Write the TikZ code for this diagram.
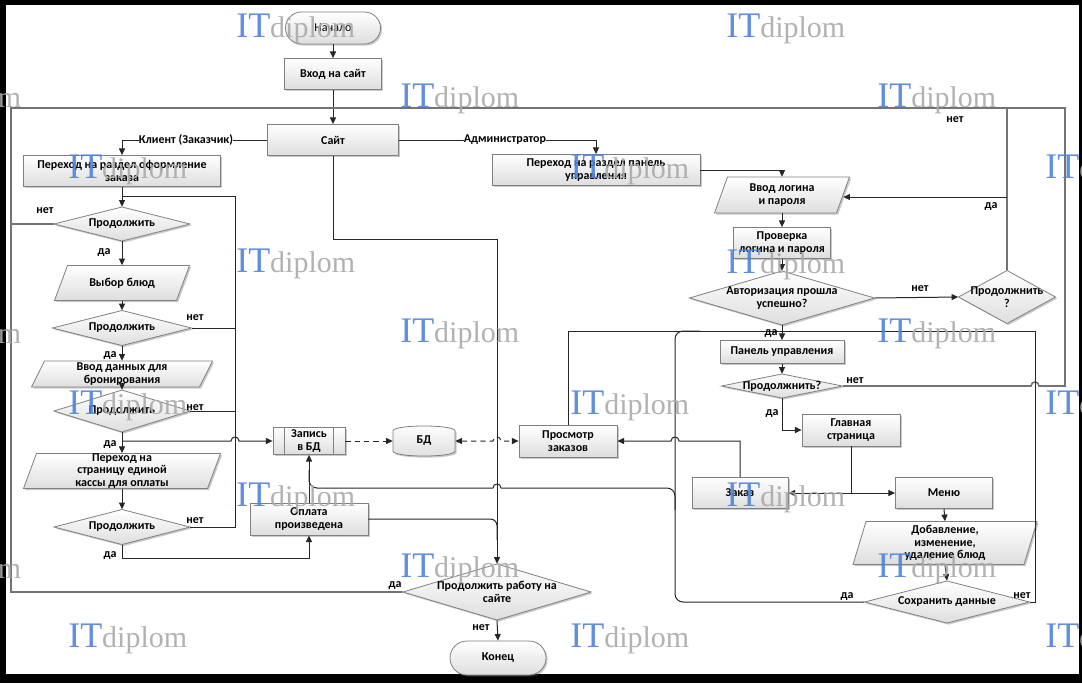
\documentclass[tikz,border=0pt]{standalone}
\usepackage{fontspec}
\setmainfont{Carlito}
\newfontfamily\wmfont{Liberation Serif}
\usetikzlibrary{arrows.meta,shapes.geometric,calc,shadows}
\definecolor{wmblue}{RGB}{80,130,220}
\definecolor{wmgray}{RGB}{170,170,170}
\newcommand\fnt{\fontsize{9}{9.6}\selectfont\bfseries}
\tikzset{
  >={Triangle[length=5pt,width=4.5pt]},
  sz/.style n args={2}{minimum width={(#1)*0.75pt},minimum height={(#2)*0.75pt}},
  shp/.style={draw=black!50, line width=0.6pt, top color=white, bottom color=black!13,
    drop shadow={shadow xshift=1.2pt,shadow yshift=-1.2pt,opacity=0.35,fill=black!60}},
  box/.style={shp, inner sep=0pt, align=center, font=\fnt},
  lbl/.style={inner sep=0pt, align=center, font=\fnt},
  con/.style={draw=black!85, line width=0.75pt},
  arr/.style={con, ->},
  dsh/.style={con, dash pattern=on 4pt off 3pt},
  outer/.style={draw=black!55, line width=1.2pt},
}
\newcommand\mybx[6]{\node[box, sz={#4}{#5}] (#1) at (#2,#3) {#6};}
\newcommand\mydmd[6]{%
  \path[shp] (#2-#4/2,#3) -- (#2,#3-#5/2) -- (#2+#4/2,#3) -- (#2,#3+#5/2) -- cycle;
  \node[lbl, sz={#4}{#5}] (#1) at (#2,#3) {#6};}
\newcommand\mypara[6]{%
  \path[shp] (#2-#4/2,#3+#5/2) -- (#2+#4/2-13,#3+#5/2) -- (#2+#4/2,#3-#5/2) -- (#2-#4/2+13,#3-#5/2) -- cycle;
  \node[lbl, sz={#4-13}{#5}] (#1) at (#2,#3) {#6};}
\newcommand\mywm[3]{\node[anchor=base west, inner sep=0pt, opacity=0.9] (#1) at (#2,#3)
  {\wmfont\fontsize{27}{27}\selectfont\textcolor{wmblue}{IT}\fontsize{22.5}{22.5}\selectfont\textcolor{wmgray}{diplom}};}
\begin{document}
\begin{tikzpicture}[x=0.75pt,y=-0.75pt]
\useasboundingbox (0,0) rectangle (1082,683);
\fill[black] (0,0) rectangle (1082,683);
\fill[white] (6,5) rectangle (1079,674);

% ---- nodes
\node[box, sz={95}{32}, rounded corners=12pt, font=\fontsize{9}{9.6}\selectfont] (start) at (333,28) {Начало};
\mybx{vhod}{333}{74}{97}{31}{Вход на сайт}
\mybx{sait}{333}{140}{131}{31}{Сайт}
\mybx{perC}{122}{171}{197}{31}{Переход на раздел оформление\\заказа}
\mydmd{d1}{122}{224}{136}{34}{Продолжить}
\mypara{vybor}{122}{283}{135}{35}{Выбор блюд}
\mydmd{d2}{122}{328}{139}{35}{Продолжить}
\mypara{vvod}{122}{374}{181}{26}{Ввод данных для\\бронирования}
\mydmd{d3}{122}{411}{136}{42}{Продолжить}
\mypara{kassa}{122}{471}{197}{35}{Переход на\\страницу единой\\кассы для оплаты}
\mydmd{d5}{122}{527}{136}{35}{Продолжить}
\mybx{zapis}{309}{441}{72}{27}{Запись\\в БД}
\draw[draw=black!50, line width=0.6pt] ([xshift=9pt]zapis.north west) -- ([xshift=9pt]zapis.south west)
  ([xshift=-9pt]zapis.north east) -- ([xshift=-9pt]zapis.south east);
\mybx{oplata}{309}{519}{118}{32}{Оплата\\произведена}
\path[shp] (393,431) .. controls (393,424.3) and (455,424.3) .. (455,431) -- (455,451)
  .. controls (455,457.7) and (393,457.7) .. (393,451) -- cycle;
\node[lbl, sz={62}{30}] (bd) at (424,441) {БД};
\mybx{prosm}{568}{441}{98}{32}{Просмотр\\заказов}
\mydmd{d6}{497}{592}{188}{56}{Продолжить работу на\\сайте}
\node[box, sz={96}{34}, rounded corners=12.7pt] (konec) at (498,658) {Конец};
\mybx{perA}{596}{170}{208}{31}{Переход на раздел панель\\управления}
\mypara{login}{782}{195}{135}{36}{Ввод логина\\и пароля}
\mybx{prov}{782}{243}{97}{31}{Проверка\\логина и пароля}
\mydmd{auth}{782}{298}{185}{54}{Авторизация прошла\\успешно?}
\mydmd{d7}{1007}{297}{97}{53}{Продолжнить\\?}
\mybx{panel}{782}{352}{124}{23}{Панель управления}
\mydmd{d8}{782}{386}{121}{24}{Продолжнить?}
\mybx{glav}{851}{430}{98}{32}{Главная\\страница}
\mybx{zakaz}{740}{493}{96}{31}{Заказ}
\mybx{menu}{944}{493}{97}{31}{Меню}
\mypara{dob}{945}{543}{184}{43}{Добавление,\\изменение,\\удаление блюд}
\mydmd{save}{947}{602}{165}{42}{Сохранить данные}

% ---- labels on lines
\node[lbl] (lcli) at (186,140) {Клиент (Заказчик)};
\node[lbl] (ladm) at (505,140) {Администратор};

% ---- connectors
\draw[arr] (start.south) -- (vhod.north);
\draw[arr] (vhod.south) -- (sait.north);
\draw[con] (sait.west) -- (lcli.east);
\draw[arr] (lcli.west) -| (perC.north);
\draw[con] (sait.east) -- (ladm.west);
\draw[arr] (ladm.east) -| (perA.north);

\draw[arr] (perC.south) -- (d1.north);
\coordinate (m1) at (122,196);
\draw[con] (d5.east) -- (235,527) -- (235,196) -- (m1);
\draw[con] (d2.east) -- (235,328);
\draw[con] (d3.east) -- (235,411);
\draw[arr] (d1.south) -- (vybor.north);
\draw[arr] (vybor.south) -- (d2.north);
\draw[arr] (d2.south) -- (vvod.north);
\draw[arr] (vvod.south) -- (d3.north);
\draw[arr] (d3.south) -- (kassa.north);
\draw[arr] (kassa.south) -- (d5.north);
\coordinate (j1) at (122,441);
\draw[arr] (j1) -- (231,441) .. controls (231,435.7) and (239,435.7) .. (239,441) -- (zapis.west);
\draw[arr] (d5.south) -- (122,558) -| (oplata.south);
\draw[arr] (oplata.north) -- (zapis.south);
\draw[dsh, ->] (zapis.east) -- (bd.west);
\draw[dsh, <->] (bd.east) -- (493,441) .. controls (493,435.7) and (501,435.7) .. (501,441) -- (prosm.west);

\draw[arr] (sait.south) -- (333,239) -- (497,239) -- (d6.north);
\draw[con, rounded corners=5pt] (oplata.east) -- (497,519) -- (497,540);
\draw[arr] (d6.south) -- (konec.north);

\draw[outer] (d1.west) -- (11,224);
\draw[outer] (d8.east) -- (1031,386) .. controls (1031,380.7) and (1039,380.7) .. (1039,386)
  -- (1065,386) -- (1065,108) -- (11,108) -- (11,592) -- (d6.west);
\draw[outer] (d7.north) -- (1007,108);
\coordinate (m2) at (1007,197);
\draw[arr] (m2) -- (login.east |- m2);

\draw[arr] (perA.east) -| (login.north);
\draw[arr] (login.south) -- (prov.north);
\draw[arr] (prov.south) -- (auth.north);
\draw[arr] (auth.east) -- (d7.west);
\draw[arr] (auth.south) -- (panel.north);
\draw[con] (save.east) -- (1035,602) -- (1035,331) -- (568,331) -- (prosm.north);
\draw[con, rounded corners=6pt] (save.west) -- (675,602) -- (675,331) -- (700,331);
\draw[con, rounded corners=6pt] (675,510) -- (675,488) -- (501,488);
\draw[con] (501,488) .. controls (501,482.7) and (493,482.7) .. (493,488);
\draw[con, rounded corners=6pt] (493,488) -- (309,488) -- (309,470);
\draw[arr] (panel.south) -- (d8.north);
\draw[arr] (d8.south) |- (glav.west);
\coordinate (m3) at (851,493);
\draw[con] (glav.south) -- (m3);
\draw[arr] (m3) -- (zakaz.east);
\draw[arr] (m3) -- (menu.west);
\draw[arr] (zakaz.north) -- (740,441) -- (679,441) .. controls (679,435.7) and (671,435.7) .. (671,441) -- (prosm.east);
\draw[arr] (menu.south) -- (dob.north);
\draw[arr] (dob.south) -- (save.north);

% ---- yes / no labels
\node[lbl] (t1) at (45,211) {нет};
\node[lbl] (t2) at (104,252) {да};
\node[lbl] (t3) at (195,318) {нет};
\node[lbl] (t4) at (110,355) {да};
\node[lbl] (t5) at (195,408) {нет};
\node[lbl] (t6) at (110,444) {да};
\node[lbl] (t7) at (195,521) {нет};
\node[lbl] (t8) at (110,555) {да};
\node[lbl] (t9) at (395,585) {да};
\node[lbl] (t10) at (481,628) {нет};
\node[lbl] (t11) at (955,120) {нет};
\node[lbl] (t12) at (991,206) {да};
\node[lbl] (t13) at (920,289) {нет};
\node[lbl] (t14) at (771,333) {да};
\node[lbl] (t15) at (855,381) {нет};
\node[lbl] (t16) at (772,413) {да};
\node[lbl] (t17) at (847,596) {да};
\node[lbl] (t18) at (1022,596) {нет};

% ---- watermarks
\mywm{w1}{236}{37}
\mywm{w2}{726}{37}
\mywm{w3}{-98}{107}
\mywm{w4}{400}{107}
\mywm{w5}{877}{107}
\mywm{w6}{68}{178}
\mywm{w7}{570}{178}
\mywm{w8}{1045}{178}
\mywm{w9}{236}{272}
\mywm{w10}{726}{273}
\mywm{w11}{-98}{343}
\mywm{w12}{400}{342}
\mywm{w13}{877}{342}
\mywm{w14}{68}{414}
\mywm{w15}{570}{414}
\mywm{w16}{1045}{414}
\mywm{w17}{236}{506}
\mywm{w18}{726}{506}
\mywm{w19}{-98}{578}
\mywm{w20}{400}{577}
\mywm{w21}{877}{577}
\mywm{w22}{68}{647}
\mywm{w23}{570}{647}
\mywm{w24}{1045}{647}
\end{tikzpicture}
\end{document}
